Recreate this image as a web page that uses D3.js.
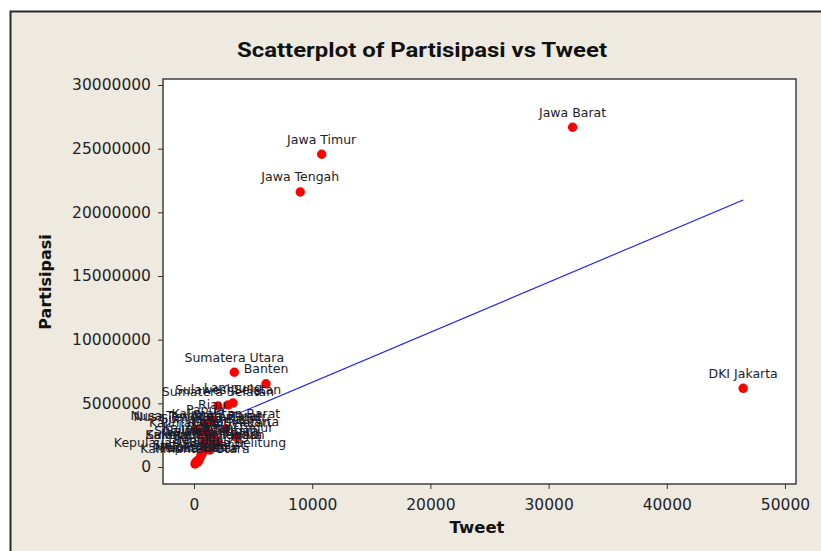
<!DOCTYPE html>
<html>
<head>
<meta charset="utf-8">
<script src="https://cdn.jsdelivr.net/npm/d3@7"></script>
<style>
  html, body { margin: 0; padding: 0; background: #ffffff; }
  svg { display: block; }
</style>
</head>
<body>
<svg id="chart" width="821" height="551"></svg>
<script>
// Province names, tweet counts and voter participation
const provinces = [
  "Aceh", "Sumatera Utara", "Sumatera Barat", "Riau", "Jambi",
  "Sumatera Selatan", "Bengkulu", "Lampung", "Kepulauan Bangka Belitung", "Kepulauan Riau",
  "DKI Jakarta", "Jawa Barat", "Jawa Tengah", "DI Yogyakarta", "Jawa Timur",
  "Banten", "Bali", "Nusa Tenggara Barat", "Nusa Tenggara Timur", "Kalimantan Barat",
  "Kalimantan Tengah", "Kalimantan Selatan", "Kalimantan Timur", "Kalimantan Utara", "Sulawesi Utara",
  "Sulawesi Tengah", "Sulawesi Selatan", "Sulawesi Tenggara", "Gorontalo", "Sulawesi Barat",
  "Maluku", "Maluku Utara", "Papua Barat", "Papua"
];
const tweets = [
  1015, 3410, 1350, 1520, 850,
  2030, 680, 3300, 510, 1350,
  46460, 32030, 8990, 3550, 10800,
  6090, 1780, 170, 500, 2700,
  930, 1350, 2030, 85, 1520,
  1015, 2880, 850, 250, 420,
  590, 170, 340, 930
];
const partisipasi = [
  2830000, 7440000, 2670000, 3700000, 2040000,
  4790000, 1020000, 5030000, 710000, 1340000,
  6180000, 26680000, 21600000, 2360000, 24560000,
  6540000, 2200000, 2900000, 2750000, 3000000,
  1340000, 2280000, 1960000, 240000, 1650000,
  1650000, 4870000, 1410000, 470000, 550000,
  940000, 390000, 390000, 3300000
];

// Axis ticks
const xTicks = [0, 10000, 20000, 30000, 40000, 50000];
const yTicks = [0, 5000000, 10000000, 15000000, 20000000, 25000000, 30000000];

// Fitted regression line: Partisipasi = intercept + slope * Tweet
const fitIntercept = 2730000;
const fitSlope = 392.7;

const titleText = "Scatterplot of Partisipasi vs Tweet";
const xTitle = "Tweet";
const yTitle = "Partisipasi";

const points = provinces.map((name, i) => ({ name, x: tweets[i], y: partisipasi[i] }));

const svg = d3.select("#chart");

// Graph region (beige panel with dark frame)
svg.append("rect")
  .attr("x", 10.5).attr("y", 11.5)
  .attr("width", 840).attr("height", 560)
  .attr("fill", "#eeeae0")
  .attr("stroke", "#2a2a2a")
  .attr("stroke-width", 2);

const plot = { left: 163, top: 79, right: 796, bottom: 484 };

const x = d3.scaleLinear().domain([0, 50000]).range([194, 785]);
const y = d3.scaleLinear().domain([0, 30000000]).range([467, 85]);

// Data region
svg.append("rect")
  .attr("x", plot.left).attr("y", plot.top)
  .attr("width", plot.right - plot.left).attr("height", plot.bottom - plot.top)
  .attr("fill", "#ffffff")
  .attr("stroke", "#333333")
  .attr("stroke-width", 1.4);

const tickFont = "'DejaVu Sans', Verdana, sans-serif";

// Y axis
const yAxis = svg.append("g")
  .attr("transform", `translate(${plot.left},0)`)
  .call(d3.axisLeft(y).tickValues(yTicks).tickSize(5).tickPadding(7).tickFormat(d3.format("d")));
yAxis.select(".domain").remove();
yAxis.selectAll("line").attr("stroke", "#333");
yAxis.selectAll("text")
  .attr("fill", "#1f1f2a")
  .style("font-family", tickFont)
  .style("font-size", "15.5px");

// X axis
const xAxis = svg.append("g")
  .attr("transform", `translate(0,${plot.bottom})`)
  .call(d3.axisBottom(x).tickValues(xTicks).tickSize(5).tickPadding(10).tickFormat(d3.format("d")));
xAxis.select(".domain").remove();
xAxis.selectAll("line").attr("stroke", "#333");
xAxis.selectAll("text")
  .attr("fill", "#1f1f2a")
  .style("font-family", tickFont)
  .style("font-size", "15.5px");

// Regression line over the range of the data
const xMin = d3.min(tweets), xMax = d3.max(tweets);
svg.append("line")
  .attr("x1", x(xMin)).attr("y1", y(fitIntercept + fitSlope * xMin))
  .attr("x2", x(xMax)).attr("y2", y(fitIntercept + fitSlope * xMax))
  .attr("stroke", "#1a1aff")
  .attr("stroke-width", 1.1);

// Points
svg.append("g").selectAll("circle")
  .data(points)
  .join("circle")
  .attr("cx", d => x(d.x))
  .attr("cy", d => y(d.y))
  .attr("r", 4.7)
  .attr("fill", "#ff0000");

// Point labels, centred above each point
svg.append("g").selectAll("text")
  .data(points)
  .join("text")
  .attr("x", d => x(d.x))
  .attr("y", d => y(d.y) - 10.5)
  .attr("text-anchor", "middle")
  .attr("fill", "#1c1c28")
  .style("font-family", tickFont)
  .style("font-size", "12.5px")
  .text(d => d.name);

// Title
svg.append("text")
  .attr("x", 422).attr("y", 57)
  .attr("text-anchor", "middle")
  .attr("textLength", 370)
  .attr("lengthAdjust", "spacingAndGlyphs")
  .attr("fill", "#111")
  .style("font-family", "'Liberation Sans Narrow', 'Roboto', sans-serif")
  .style("font-weight", "bold")
  .style("font-size", "21px")
  .text(titleText);

// Axis titles
svg.append("text")
  .attr("x", 477).attr("y", 533)
  .attr("text-anchor", "middle")
  .attr("fill", "#111")
  .style("font-family", tickFont)
  .style("font-weight", "bold")
  .style("font-size", "16.5px")
  .text(xTitle);

svg.append("text")
  .attr("transform", "translate(51,282) rotate(-90)")
  .attr("text-anchor", "middle")
  .attr("fill", "#111")
  .style("font-family", tickFont)
  .style("font-weight", "bold")
  .style("font-size", "16px")
  .text(yTitle);
</script>
</body>
</html>
